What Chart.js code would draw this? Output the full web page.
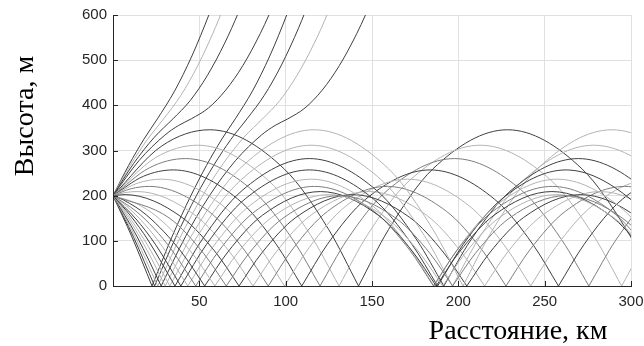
<!DOCTYPE html>
<html>
<head>
<meta charset="utf-8">
<script src="https://cdn.jsdelivr.net/npm/chart.js@4.4.1/dist/chart.umd.min.js"></script>
<style>
  html, body { margin: 0; padding: 0; background: #ffffff; }
  canvas { display: block; }
</style>
</head>
<body>
<canvas id="rays" width="644" height="346"></canvas>
<script>
// Ray paths from a source at 200 m. Each ray is a list of arcs between
// ground reflections; every arc is a flat list of (range km, height m) pairs.

// horizontal ray and rays launched downward, trapped in the duct
const downRays = [
  [[0,200, 32.8,150, 52.5,72, 65.6,0],
   [65.6,0, 78.7,72, 98.4,150, 131.1,200, 163.9,150, 183.6,72, 196.7,0],
   [196.7,0, 209.8,72, 229.5,150, 262.3,200, 295.1,150, 314.7,72, 327.9,0]],
  [[0,200, 12.8,184.1, 26.0,151.7, 45.8,72.8, 59.0,0],
   [59.0,0, 72.1,72.8, 91.9,151.7, 124.9,202.3, 157.9,151.7, 177.7,72.8, 190.9,0],
   [190.9,0, 204.0,72.8, 223.8,151.7, 256.8,202.3, 289.8,151.7, 309.6,72.8, 322.8,0]],
  [[0,200, 6.1,190.3, 19.5,156.8, 39.6,75.3, 53.1,0],
   [53.1,0, 66.5,75.3, 86.6,156.8, 120.1,209.1, 153.6,156.8, 173.7,75.3, 187.2,0],
   [187.2,0, 200.6,75.3, 220.7,156.8, 254.2,209.1, 287.7,156.8, 307.8,75.3, 321.3,0]],
  [[0,200, 13.4,165.4, 23.8,127.3, 34.1,79.4, 47.9,0],
   [47.9,0, 61.6,79.4, 82.3,165.4, 116.7,220.5, 151.1,165.4, 171.8,79.4, 185.6,0],
   [185.6,0, 199.3,79.4, 220.0,165.4, 254.4,220.5, 288.8,165.4, 309.5,79.4, 323.3,0]],
  [[0,200, 7.7,177.4, 18.4,136.6, 29.0,85.1, 43.3,0],
   [43.3,0, 57.6,85.1, 79.0,177.4, 114.6,236.5, 150.3,177.4, 171.6,85.1, 185.9,0],
   [185.9,0, 200.2,85.1, 221.6,177.4, 257.2,236.5, 292.9,177.4, 314.2,85.1, 328.5,0]],
  [[0,200, 13.3,148.4, 24.5,92.5, 39.3,0],
   [39.3,0, 54.2,92.5, 76.5,192.7, 113.7,257.0, 150.8,192.7, 173.1,92.5, 188.0,0],
   [188.0,0, 202.9,92.5, 225.2,192.7, 262.3,257.0, 299.5,192.7, 321.8,92.5, 336.7,0]],
  [[0,200, 10.2,155.4, 20.3,101.5, 35.9,0],
   [35.9,0, 51.4,101.5, 74.8,211.5, 113.7,282.1, 152.7,211.5, 176.0,101.5, 191.6,0],
   [191.6,0, 207.2,101.5, 230.5,211.5, 269.5,282.1, 308.4,211.5, 331.8,101.5, 347.4,0]],
  [[0,200, 8.3,159.0, 20.6,86.5, 32.9,0],
   [32.9,0, 49.2,112.2, 73.8,233.8, 114.7,311.7, 155.7,233.8, 180.2,112.2, 196.6,0],
   [196.6,0, 213.0,112.2, 237.5,233.8, 278.4,311.7, 319.4,233.8, 343.9,112.2, 360.3,0]],
  [[0,200, 8.7,151.3, 19.9,78.0, 30.2,0],
   [30.2,0, 47.5,124.5, 73.3,259.4, 116.5,345.9, 159.6,259.4, 185.4,124.5, 202.7,0],
   [202.7,0, 219.9,124.5, 245.8,259.4, 288.9,345.9, 332.0,259.4, 357.9,124.5, 375.2,0]]
];

// rays launched upward that turn below the top of the duct
const upRays = [
  [[0,200, 7,202.3, 40.0,151.7, 59.8,72.8, 73.0,0],
   [73.0,0, 86.1,72.8, 105.9,151.7, 138.9,202.3, 171.9,151.7, 191.7,72.8, 204.9,0],
   [204.9,0, 218.0,72.8, 237.8,151.7, 270.8,202.3, 303.8,151.7, 323.6,72.8, 336.8,0]],
  [[0,200, 7,206.8, 14,209.1, 47.5,156.8, 67.6,75.3, 81.1,0],
   [81.1,0, 94.5,75.3, 114.6,156.8, 148.1,209.1, 181.6,156.8, 201.7,75.3, 215.2,0],
   [215.2,0, 228.6,75.3, 248.7,156.8, 282.2,209.1, 315.7,156.8, 335.8,75.3, 349.3,0]],
  [[0,200, 10.5,215.4, 21,220.5, 55.4,165.4, 76.1,79.4, 89.9,0],
   [89.9,0, 103.6,79.4, 124.3,165.4, 158.7,220.5, 193.1,165.4, 213.8,79.4, 227.6,0],
   [227.6,0, 241.3,79.4, 262.0,165.4, 296.4,220.5, 330.8,165.4, 351.5,79.4, 365.3,0]],
  [[0,200, 14,227.4, 28,236.5, 63.7,177.4, 85.0,85.1, 99.3,0],
   [99.3,0, 113.6,85.1, 135.0,177.4, 170.6,236.5, 206.3,177.4, 227.6,85.1, 241.9,0],
   [241.9,0, 256.2,85.1, 277.6,177.4, 313.2,236.5, 348.9,177.4, 370.2,85.1, 384.5,0]],
  [[0,200, 17.5,242.7, 35,257.0, 72.2,192.7, 94.5,92.5, 109.3,0],
   [109.3,0, 124.2,92.5, 146.5,192.7, 183.7,257.0, 220.8,192.7, 243.1,92.5, 258.0,0],
   [258.0,0, 272.9,92.5, 295.2,192.7, 332.3,257.0, 369.5,192.7]],
  [[0,200, 21,261.5, 42,282.1, 80.9,211.5, 104.3,101.5, 119.9,0],
   [119.9,0, 135.4,101.5, 158.8,211.5, 197.7,282.1, 236.7,211.5, 260.0,101.5, 275.6,0],
   [275.6,0, 291.2,101.5, 314.5,211.5, 353.5,282.1]],
  [[0,200, 24.5,283.8, 49,311.7, 89.9,233.8, 114.5,112.2, 130.9,0],
   [130.9,0, 147.2,112.2, 171.8,233.8, 212.7,311.7, 253.7,233.8, 278.2,112.2, 294.6,0],
   [294.6,0, 311.0,112.2, 335.5,233.8, 376.4,311.7]],
  [[0,200, 28,309.4, 56,345.9, 99.1,259.4, 125.0,124.5, 142.2,0],
   [142.2,0, 159.5,124.5, 185.3,259.4, 228.5,345.9, 271.6,259.4, 297.4,124.5, 314.7,0]]
];

// steep upward rays leaving the duct
const escapingUpRays = [
  [[0,200, 15,277.4, 30,334.0, 38,355.5, 45.3,370, 55.3,394.2, 65.3,433.8, 75.3,488.6, 85.3,559.0, 90.3,600, 97.3,663.7]],
  [[0,200, 12,271.5, 24,329.6, 34.7,370, 44.7,410.5, 54.7,466.5, 64.7,537.8, 72.7,605.9, 79.7,673.6]],
  [[0,200, 10,267.0, 20,324.7, 29.3,370, 39.3,422.1, 49.3,489.5, 59.3,572.3, 66.3,639.4]],
  [[0,200, 9,266.6, 18,325.6, 25.7,370, 35.7,431.9, 45.7,509.3, 55.7,602.0, 61.7,665.0]]
];

// steep downward rays that leave the duct after the ground reflection
const escapingDownRays = [
  [[0,200, 14,108.8, 27.9,0],
   [27.9,0, 41.9,108.8, 55.9,200, 70.9,277.4, 85.9,334.0, 93.9,355.5, 101.2,370, 111.2,394.2, 121.2,433.8, 131.2,488.6, 141.2,559.0, 146.2,600, 153.2,663.7]],
  [[0,200, 13,107.6, 25.9,0],
   [25.9,0, 38.9,107.6, 51.9,200, 63.9,271.5, 75.9,329.6, 86.6,370, 96.6,410.5, 106.6,466.5, 116.6,537.8, 124.6,605.9, 131.6,673.6]],
  [[0,200, 12,107.4, 24.1,0],
   [24.1,0, 36.3,107.4, 48.3,200, 58.3,267.0, 68.3,324.7, 77.6,370, 87.6,422.1, 97.6,489.5, 107.6,572.3, 114.6,639.4]],
  [[0,200, 11,108.4, 22.6,0],
   [22.6,0, 34.1,108.4, 45.1,200, 54.1,266.6, 63.1,325.6, 70.8,370, 80.8,431.9, 90.8,509.3, 100.8,602.0, 106.8,665.0]]
];

const xTicks = [50, 100, 150, 200, 250, 300];
const yTicks = [0, 100, 200, 300, 400, 500, 600];
const xTitle = 'Расстояние, км';
const yTitle = 'Высота, м';

// line shades per ray
const tones = { d: '#3f3f3f', m: '#7d7d7d', l: '#b3b3b3' };
const downTones = ['m', 'l', 'd', 'm', 'l', 'd', 'd', 'l', 'l'];
const upTones = ['d', 'l', 'm', 'l', 'd', 'm', 'l', 'd'];
const escapingUpTones = ['d', 'd', 'l', 'd'];
const escapingDownTones = ['d', 'l', 'd', 'd'];

// arcs are joined through a gap point so each reflection stays a sharp corner
function rayPoints(arcs) {
  const pts = [];
  arcs.forEach((arc, i) => {
    if (i > 0) pts.push({ x: arc[0], y: null });
    for (let k = 0; k < arc.length; k += 2) pts.push({ x: arc[k], y: arc[k + 1] });
  });
  return pts;
}

function rayDatasets(rays, toneKeys) {
  return rays.map((arcs, i) => ({
    data: rayPoints(arcs),
    borderColor: tones[toneKeys[i]],
    borderWidth: 1,
    pointRadius: 0,
    fill: false,
    spanGaps: false,
    cubicInterpolationMode: 'monotone'
  }));
}

const datasets = [].concat(
  rayDatasets(downRays, downTones),
  rayDatasets(upRays, upTones),
  rayDatasets(escapingUpRays, escapingUpTones),
  rayDatasets(escapingDownRays, escapingDownTones)
);

const axisInk = '#262626';

const decorations = {
  id: 'decorations',
  afterDraw(chart) {
    const { ctx, chartArea: a, scales } = chart;
    ctx.save();
    // inward tick marks
    ctx.strokeStyle = axisInk;
    ctx.lineWidth = 1;
    ctx.beginPath();
    xTicks.forEach(v => {
      const px = Math.round(scales.x.getPixelForValue(v)) + 0.5;
      ctx.moveTo(px, a.bottom);
      ctx.lineTo(px, a.bottom - 5);
    });
    yTicks.forEach(v => {
      const py = Math.round(scales.y.getPixelForValue(v)) + 0.5;
      ctx.moveTo(a.left, py);
      ctx.lineTo(a.left + 5, py);
    });
    ctx.stroke();
    // axis titles
    ctx.fillStyle = '#000000';
    ctx.font = '28px "Liberation Serif", "Times New Roman", serif';
    ctx.textAlign = 'center';
    ctx.textBaseline = 'alphabetic';
    ctx.fillText(xTitle, 518, 339);
    ctx.translate(33, 116);
    ctx.rotate(-Math.PI / 2);
    ctx.fillText(yTitle, 0, 0);
    ctx.restore();
  }
};

const tickFont = { family: '"Liberation Sans", Arial, sans-serif', size: 15 };

new Chart(document.getElementById('rays'), {
  type: 'line',
  data: { datasets },
  options: {
    responsive: false,
    animation: false,
    devicePixelRatio: 1,
    events: [],
    layout: { padding: { left: 0, top: 15, right: 13, bottom: 0 } },
    elements: { line: { capBezierPoints: false } },
    plugins: { legend: { display: false }, tooltip: { enabled: false } },
    scales: {
      x: {
        type: 'linear',
        min: 0,
        max: 300,
        afterBuildTicks: s => { s.ticks = xTicks.map(v => ({ value: v })); },
        afterFit: s => { s.height = 60; s.paddingLeft = 0; s.paddingRight = 0; },
        grid: { color: '#e0e0e0', lineWidth: 1, drawTicks: false },
        border: { display: true, color: axisInk, width: 1, z: 1 },
        ticks: { font: tickFont, color: axisInk, padding: 7, maxRotation: 0, autoSkip: false }
      },
      y: {
        type: 'linear',
        min: 0,
        max: 600,
        afterBuildTicks: s => { s.ticks = yTicks.map(v => ({ value: v })); },
        afterFit: s => { s.width = 113; s.paddingTop = 0; s.paddingBottom = 0; },
        grid: { color: '#e0e0e0', lineWidth: 1, drawTicks: false },
        border: { display: true, color: axisInk, width: 1, z: 1 },
        ticks: { font: tickFont, color: axisInk, padding: 6, autoSkip: false }
      }
    }
  },
  plugins: [decorations]
});
</script>
</body>
</html>
